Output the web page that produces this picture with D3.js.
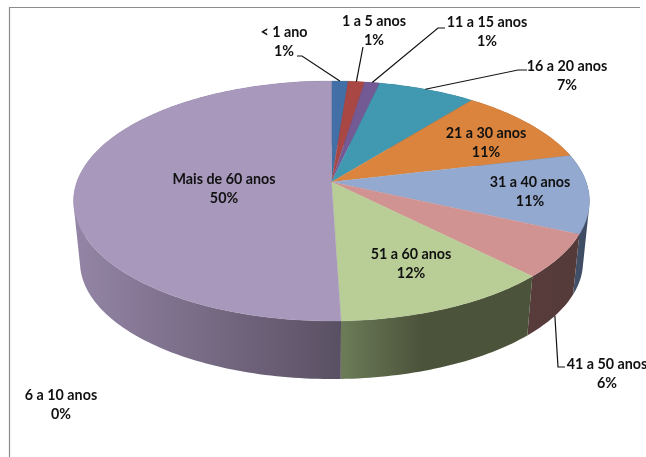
<!DOCTYPE html>
<html><head><meta charset="utf-8">
<script src="https://cdn.jsdelivr.net/npm/d3@7/dist/d3.min.js"></script>
<style>html,body{margin:0;padding:0;background:#fff;overflow:hidden}svg{display:block;filter:blur(0.35px)}text{font-family:Lato,"Open Sans",sans-serif;font-weight:700;font-size:14.3px;fill:#111}</style>
</head><body><svg id="c" width="646" height="457"></svg>
<script>
const categories=["< 1 ano","1 a 5 anos","6 a 10 anos","11 a 15 anos","16 a 20 anos","21 a 30 anos","31 a 40 anos","41 a 50 anos","51 a 60 anos","Mais de 60 anos"];
const values=[1.2,1.2,0,1.1,7.1,10.6,10.6,5.8,11.8,50.4];
const labelsPct=["1%","1%","0%","1%","7%","11%","11%","6%","12%","50%"];
const topColors=["#4270a6","#a94744","#8a9f56","#745a95","#4198b1","#db843d","#93a9cf","#d19392","#b9cd96","#a898bc"];
const wallStart=["#2a4466","#68302e","#55633a","#463a5c","#2a5f70","#8a5526","#46566f","#583c3c","#6c7c58","#9485a6"];
const wallEnd=["#2a4466","#68302e","#55633a","#463a5c","#2a5f70","#8a5526","#3c4a60","#553a3a","#4c533b","#5a5063"];
const labelX=[284,374,61,487,567,486,530,607,411,224];
const labelY=[37,26,400,27,71,138,187,369,259,184];
const leaders=[[[297,56],[302,56]],[[363,47]],[],[[445,28],[438,28]],[[527,70],[518,70]],[],[],[[565,367],[558,367]],[],[]];
const leaderLevel=[0,0,0,0,0,0,0,1,0,0];
const leaderFraction=[.5,.5,.5,.5,.48,.5,.5,.5,.5,.5];

const apexX=331.5,apexY=182,A=117,B=254.7,P=0.1583,K=0.975,D=61.5;
function project(theta,level){
  const u=Math.sin(theta),v=-Math.cos(theta),s=1/(1-P*v),k=level?K:1;
  return [apexX+k*B*u*s, apexY+(level?D:0)+k*A*v*s];
}
const svg=d3.select("#c"),defs=svg.append("defs");
const arcs=d3.pie().sort(null).value(d=>d)(values);
const line=d3.line();
const sample=(a0,a1)=>{const n=Math.max(2,Math.ceil((a1-a0)/0.02));return d3.range(n+1).map(i=>a0+(a1-a0)*i/n);};
svg.append("path").attr("d","M9.5 457V7.5H640").attr("fill","none").attr("stroke","#8c8c8c").attr("stroke-width",1.2);

arcs.forEach((d,i)=>{
  if(d.endAngle-d.startAngle<=0)return;
  const ts=sample(d.startAngle,d.endAngle);
  const tops=ts.map(t=>project(t,0)),bots=ts.map(t=>project(t,1));
  const ext=d3.extent(tops.concat(bots),p=>p[0]);
  const g=defs.append("linearGradient").attr("id","w"+i).attr("gradientUnits","userSpaceOnUse")
    .attr("x1",ext[0]).attr("x2",i===8?ext[0]+80:ext[1]).attr("y1",0).attr("y2",0);
  g.append("stop").attr("offset",0).attr("stop-color",wallStart[i]);
  g.append("stop").attr("offset",1).attr("stop-color",wallEnd[i]);
  let dPath="";
  for(let j=0;j<ts.length-1;j++){
    let q=[tops[j],tops[j+1],bots[j+1],bots[j]];
    if(d3.polygonArea(q)<0)q=q.slice().reverse();
    dPath+=line(q)+"Z";
  }
  svg.append("path").attr("d",dPath).attr("fill",`url(#w${i})`).attr("fill-rule","nonzero");
});
arcs.forEach((d,i)=>{
  if(d.endAngle-d.startAngle<=0)return;
  const pts=[[apexX,apexY]].concat(sample(d.startAngle,d.endAngle).map(t=>project(t,0)));
  svg.append("path").attr("d",line(pts)+"Z").attr("fill",topColors[i]).attr("stroke",topColors[i]).attr("stroke-width",0.3);
});
arcs.forEach((d,i)=>{
  if(!leaders[i].length)return;
  const anchor=project(d.startAngle+(d.endAngle-d.startAngle)*leaderFraction[i],leaderLevel[i]);
  svg.append("path").attr("d",line(leaders[i].concat([anchor]))).attr("fill","none").attr("stroke","#111").attr("stroke-width",1.2);
});
categories.forEach((c,i)=>{
  const t=svg.append("text").attr("text-anchor","middle").attr("x",labelX[i]).attr("y",labelY[i]);
  t.append("tspan").attr("x",labelX[i]).text(c);
  t.append("tspan").attr("x",labelX[i]).attr("dy",18.7).text(labelsPct[i]);
});
</script></body></html>
